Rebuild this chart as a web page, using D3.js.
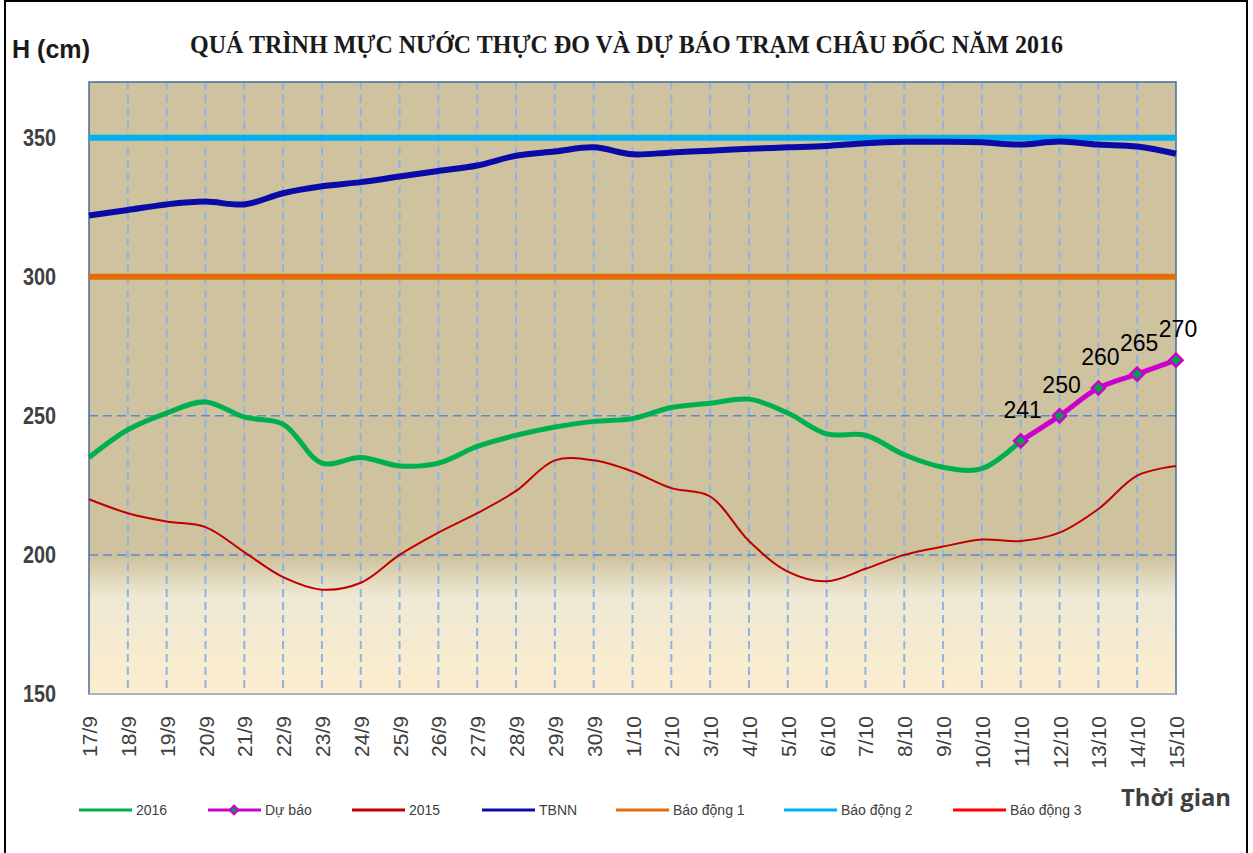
<!DOCTYPE html>
<html><head><meta charset="utf-8">
<script src="https://cdn.jsdelivr.net/npm/d3@7/dist/d3.min.js"></script>
<style>body{margin:0;background:#fff;}svg{display:block;}</style>
</head><body>
<svg id="c" width="1253" height="853"></svg>
<script>
const dates = ["17/9","18/9","19/9","20/9","21/9","22/9","23/9","24/9","25/9","26/9","27/9","28/9","29/9","30/9",
  "1/10","2/10","3/10","4/10","5/10","6/10","7/10","8/10","9/10","10/10","11/10","12/10","13/10","14/10","15/10"];
const tbnn = [322,324,326,327,326,330,332.5,334,336,338,340,343.5,345,346.5,344,344.7,345.3,346,346.5,347,348,348.5,348.5,348.3,347.5,348.6,347.5,346.8,344.2];
const obs2016 = [235,245,251,255,249.5,247,233,235,232,233,239,243,246,248,249,253,254.5,256,251,243.5,243,236,231.5,231,241];
const forecastDates = ["11/10","12/10","13/10","14/10","15/10"];
const forecast = [241,250,260,265,270];
const y2015 = [220,215,212,210,201,192,187.5,190,200,208,215,223,234,234,230,224,221,205,194,190.5,195,200,203,205.5,205,208,216.5,228.5,232];
const alarm1 = 300, alarm2 = 350, alarm3 = 400;
const yTicks = [150,200,250,300,350];
const legendNames = ["2016","Dự báo","2015","TBNN","Báo động 1","Báo động 2","Báo động 3"];

const svg = d3.select("#c");
const L = 89, R = 1176, T = 82, B = 694;
const x = d3.scalePoint().domain(dates).range([L, R]);
const y = d3.scaleLinear().domain([150, 370]).range([B, T]);

// outer border
svg.append("rect").attr("x",5).attr("y",1).attr("width",1242).attr("height",870)
  .attr("fill","none").attr("stroke","#000").attr("stroke-width",2);

// background gradient
const defs = svg.append("defs");
const g = defs.append("linearGradient").attr("id","bg").attr("x1",0).attr("y1",0).attr("x2",0).attr("y2",1);
[[0,"#cfc29e"],[0.776,"#cfc29e"],[0.84,"#eee8d4"],[1,"#fdedcd"]].forEach(([o,c])=>g.append("stop").attr("offset",o).attr("stop-color",c));
svg.append("rect").attr("x",L).attr("y",T).attr("width",R-L).attr("height",B-T).attr("fill","url(#bg)");

// vertical grid
svg.append("g").selectAll("line").data(dates.slice(1,-1)).join("line")
  .attr("x1",d=>x(d)).attr("x2",d=>x(d)).attr("y1",T).attr("y2",B)
  .attr("stroke","#8db4e2").attr("stroke-width",2).attr("stroke-dasharray","8,5");
// horizontal grid
svg.append("g").selectAll("line").data(yTicks.slice(1)).join("line")
  .attr("x1",L).attr("x2",R).attr("y1",d=>y(d)).attr("y2",d=>y(d))
  .attr("stroke","#5b8bd5").attr("stroke-width",1.5).attr("stroke-dasharray","9,5");

// plot border
svg.append("rect").attr("x",L).attr("y",T).attr("width",R-L).attr("height",B-T)
  .attr("fill","none").attr("stroke","#4a6a9a").attr("stroke-width",1.5);
svg.append("line").attr("x1",L).attr("x2",R).attr("y1",B).attr("y2",B).attr("stroke","#a8b4c4").attr("stroke-width",2);

// y axis labels
const yAxis = d3.axisLeft(y).tickValues(yTicks).tickSize(0).tickPadding(0);
const ya = svg.append("g").attr("transform",`translate(56,0)`).call(yAxis);
ya.select(".domain").remove();
ya.selectAll("text").attr("font-family","Arial, 'Liberation Sans', sans-serif").attr("font-size",24)
  .attr("font-weight","bold").attr("fill","#404040").attr("textLength",33).attr("lengthAdjust","spacingAndGlyphs");

// x axis labels
const xAxis = d3.axisBottom(x).tickSize(0).tickPadding(0);
const xa = svg.append("g").attr("transform",`translate(0,716)`).call(xAxis);
xa.select(".domain").remove();
xa.selectAll("text").attr("font-family","Arial, 'Liberation Sans', sans-serif").attr("font-size",21)
  .attr("fill","#404040").attr("text-anchor","end").attr("transform","rotate(-90)")
  .attr("x",0).attr("y",0).attr("dy","0.36em");

// alarm lines
svg.append("line").attr("x1",L).attr("x2",R).attr("y1",y(alarm1)).attr("y2",y(alarm1)).attr("stroke","#e46c0a").attr("stroke-width",6);
svg.append("line").attr("x1",L).attr("x2",R).attr("y1",y(alarm2)).attr("y2",y(alarm2)).attr("stroke","#00b0f0").attr("stroke-width",6);

const line = d3.line().x(d=>x(d[0])).y(d=>y(d[1])).curve(d3.curveCatmullRom.alpha(0.5));
svg.append("path").datum(dates.map((d,i)=>[d,tbnn[i]])).attr("d",line)
  .attr("fill","none").attr("stroke","#0a0aa8").attr("stroke-width",6);
svg.append("path").datum(dates.map((d,i)=>[d,y2015[i]])).attr("d",line)
  .attr("fill","none").attr("stroke","#c00000").attr("stroke-width",2);
svg.append("path").datum(obs2016.map((v,i)=>[dates[i],v])).attr("d",line)
  .attr("fill","none").attr("stroke","#00b050").attr("stroke-width",5);
svg.append("path").datum(forecastDates.map((d,i)=>[d,forecast[i]])).attr("d",line)
  .attr("fill","none").attr("stroke","#cc00cc").attr("stroke-width",5);
const sym = d3.symbol().type(d3.symbolDiamond2).size(110);
svg.append("g").selectAll("path").data(forecastDates.map((d,i)=>[d,forecast[i]])).join("path")
  .attr("d",sym).attr("transform",d=>`translate(${x(d[0])},${y(d[1])})`)
  .attr("fill","#00a050").attr("stroke","#cc00cc").attr("stroke-width",2.5);
svg.append("g").selectAll("text").data(forecastDates.map((d,i)=>[d,forecast[i]])).join("text")
  .attr("x",d=>x(d[0])+2).attr("y",d=>y(d[1])-23).attr("text-anchor","middle")
  .attr("font-family","Arial, 'Liberation Sans', sans-serif").attr("font-size",23).attr("fill","#000")
  .text(d=>d[1]);

// title
svg.append("text").attr("x",190).attr("y",53).attr("font-family","'Liberation Serif','Times New Roman',serif")
  .attr("font-weight","bold").attr("font-size",26).attr("fill","#1a1a1a")
  .attr("textLength",873).attr("lengthAdjust","spacingAndGlyphs")
  .text("QUÁ TRÌNH MỰC NƯỚC THỰC ĐO VÀ DỰ BÁO TRẠM CHÂU ĐỐC  NĂM 2016");
svg.append("text").attr("x",12).attr("y",58).attr("font-family","Arial, 'Liberation Sans', sans-serif")
  .attr("font-weight","bold").attr("font-size",26).attr("fill","#1a1a1a")
  .attr("textLength",78).attr("lengthAdjust","spacingAndGlyphs").text("H (cm)");
svg.append("text").attr("x",1121).attr("y",806).attr("font-family","'Open Sans', sans-serif")
  .attr("font-weight","bold").attr("font-size",24).attr("fill","#404040")
  .attr("textLength",110).attr("lengthAdjust","spacingAndGlyphs").text("Thời gian");

// legend
const legColors = ["#00b050","#cc00cc","#c00000","#0a0aa8","#e46c0a","#00b0f0","#ff0000"];
const legX = [79,208,352,482,616,784,953];
const lg = svg.append("g");
legendNames.forEach((n,i)=>{
  lg.append("line").attr("x1",legX[i]).attr("x2",legX[i]+53).attr("y1",810).attr("y2",810)
    .attr("stroke",legColors[i]).attr("stroke-width",3);
  if(n==="Dự báo"){
    lg.append("path").attr("d",d3.symbol().type(d3.symbolDiamond2).size(50))
      .attr("transform",`translate(${legX[i]+26},810)`).attr("fill","#00a050").attr("stroke","#cc00cc").attr("stroke-width",2);
  }
  lg.append("text").attr("x",legX[i]+57).attr("y",815).attr("font-family","Arial, 'Liberation Sans', sans-serif")
    .attr("font-size",14).attr("fill","#404040").text(n);
});
</script>
</body></html>
